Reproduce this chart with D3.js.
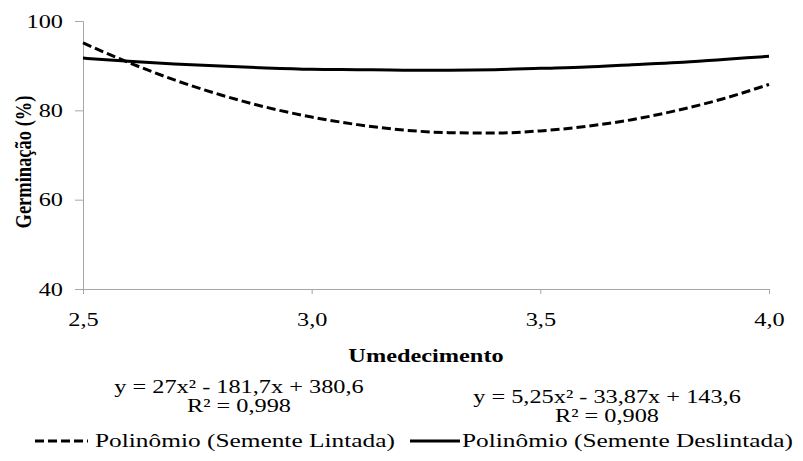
<!DOCTYPE html>
<html>
<head>
<meta charset="utf-8">
<script src="https://cdn.jsdelivr.net/npm/d3@7"></script>
</head>
<body style="margin:0">
<script>
// values
var umedecimento = [2.5, 2.6, 2.7, 2.8, 2.9, 3.0, 3.1, 3.2, 3.3, 3.4, 3.5, 3.6, 3.7, 3.8, 3.9, 4.0];
var lintada = [95.1, 90.7, 86.8, 83.5, 80.7, 78.5, 76.8, 75.6, 75.0, 74.9, 75.4, 76.4, 77.9, 80.0, 82.6, 85.8];
var deslintada = [91.7, 91.0, 90.4, 89.9, 89.5, 89.2, 89.1, 89.0, 89.0, 89.1, 89.4, 89.7, 90.2, 90.7, 91.4, 92.1];
var xTicks = [2.5, 3.0, 3.5, 4.0];
var yTicks = [40, 60, 80, 100];
var eqLintada = ["y = 27x² - 181,7x + 380,6", "R² = 0,998"];
var eqDeslintada = ["y = 5,25x² - 33,87x + 143,6", "R² = 0,908"];
var legendNames = ["Polinômio (Semente Lintada)", "Polinômio (Semente Deslintada)"];

var svgWidth = 803;
var svgHeight = 461;
var margin = { top: 21, left: 83 };
var width = 686;
var height = 268;
var sx = 1.28; // the original text looks stretched sideways

var svg = d3.select("body")
  .append("svg")
  .attr("width", svgWidth)
  .attr("height", svgHeight);

// same serif face for every label
function label(px, py, txt, size, bold, anchor, stretch) {
  return svg.append("text")
    .attr("transform", `translate(${px}, ${py}) scale(${stretch || sx}, 1)`)
    .attr("text-anchor", anchor || "middle")
    .style("font-family", "'Times New Roman', 'Liberation Serif', serif")
    .style("font-size", size + "px")
    .style("font-weight", bold ? "bold" : "normal")
    .text(txt);
}

var chartGroup = svg.append("g")
  .attr("transform", `translate(${margin.left}, ${margin.top})`);

var x = d3.scaleLinear().domain([2.5, 4.0]).range([0, width]);
var y = d3.scaleLinear().domain([40, 100]).range([height, 0]);

var fmt = d => d3.format(".1f")(d).replace(".", ",");

// axes
var xAxis = chartGroup.append("g")
  .attr("transform", `translate(0, ${height})`)
  .call(d3.axisBottom(x).tickValues(xTicks).tickSize(5).tickPadding(19).tickFormat(fmt));

var yAxis = chartGroup.append("g")
  .call(d3.axisLeft(y).tickValues(yTicks).tickSize(8).tickPadding(12));

[xAxis, yAxis].forEach(function (a) {
  a.attr("font-family", "'Times New Roman', 'Liberation Serif', serif").attr("font-size", 19);
  a.selectAll("path, line").attr("stroke", "#a6a6a6").attr("stroke-width", 1);
  a.selectAll("text").attr("fill", "#000").attr("transform", `scale(${sx}, 1)`);
});
// keep the y labels' right edge where it was before the stretch
yAxis.selectAll("text").attr("x", -20 / sx);

// curves
var line = d3.line()
  .x((d, i) => x(umedecimento[i]))
  .y(d => y(d))
  .curve(d3.curveMonotoneX);

chartGroup.append("path")
  .datum(deslintada)
  .attr("d", line)
  .attr("fill", "none")
  .attr("stroke", "#000")
  .attr("stroke-width", 3);

chartGroup.append("path")
  .datum(lintada)
  .attr("d", line)
  .attr("fill", "none")
  .attr("stroke", "#000")
  .attr("stroke-width", 3)
  .attr("stroke-dasharray", "9,4");

// axis titles
label(0, 0, "Germinação (%)", 18.5, true, "middle", 1)
  .attr("transform", "translate(31, 162) rotate(-90) scale(1, 1.2)");

label(426, 362, "Umedecimento", 19, true);

// equations
eqLintada.forEach((t, i) => label(239, 393 + i * 19, t, 19));
eqDeslintada.forEach((t, i) => label(607, 403 + i * 19, t, 19));

// legend
var legendX = [35, 410];
legendNames.forEach(function (name, i) {
  svg.append("line")
    .attr("x1", legendX[i])
    .attr("x2", legendX[i] + (i === 0 ? 53 : 50))
    .attr("y1", 441)
    .attr("y2", 441)
    .attr("stroke", "#000")
    .attr("stroke-width", 3)
    .attr("stroke-dasharray", i === 0 ? "9,4" : null);

  label(legendX[i] + (i === 0 ? 60 : 52), 447, name, 19.5, false, "start", 1.3);
});
</script>
</body>
</html>
